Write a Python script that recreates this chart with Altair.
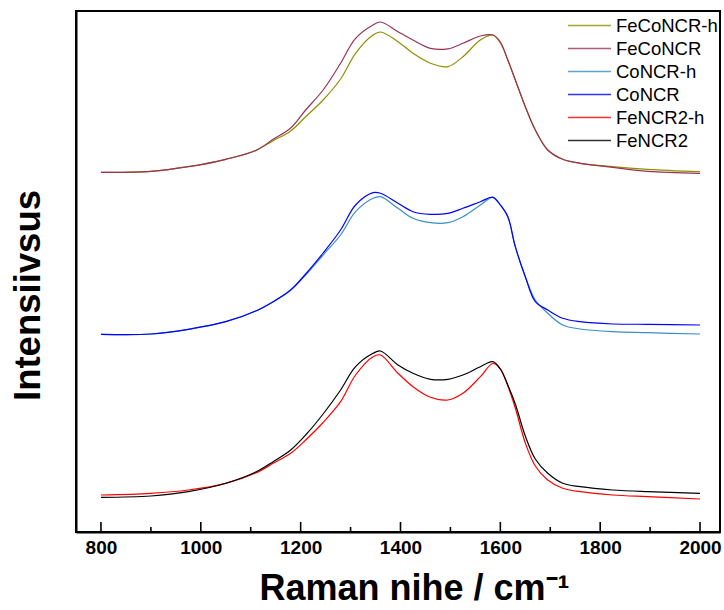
import altair as alt
import pandas as pd

# Raman shift (cm-1) sample positions
raman_shift = [800, 900, 975, 1050, 1110, 1145, 1180, 1210, 1245, 1280, 1310,
               1345, 1360, 1395, 1425, 1460, 1495, 1525, 1560, 1585, 1600,
               1615, 1630, 1650, 1670, 1695, 1725, 1760, 1825, 1895, 2000]

# Intensities (arbitrary units, offset stacked as in the figure)
feconcr_h = [359.7, 360.7, 365.3, 372.7, 381.5, 391.3, 401, 415.3, 432, 453, 478.7,
             497, 500, 490.3, 478.7, 468.7, 465.3, 475.3, 492, 497, 489,
             472, 452, 425.3, 402, 382, 372.7, 368.7, 365.3, 362.7, 360.3]
feconcr = [359.7, 360.7, 365.3, 372.7, 381.5, 392.7, 404, 422, 442, 468.7, 493.7,
           507, 510, 500.3, 492, 483.7, 483.2, 488.7, 496, 497, 490,
           472, 452, 425.3, 402, 382, 372.7, 368.7, 364.7, 360.7, 358.7]
concr_h = [197.7, 198, 202.7, 210.3, 221, 230.3, 242, 257, 277, 297, 320.3,
           333.7, 335.3, 323.7, 313.7, 309.3, 309.3, 315.3, 327, 334.7, 327,
           315.3, 285.3, 255.3, 232, 218.7, 207, 203, 200.3, 199.3, 198]
concr = [197.7, 198, 202.7, 210.3, 221, 230.3, 242, 258, 279, 302, 327,
         339.3, 338.7, 328.7, 320.3, 317.7, 318.7, 323.7, 330.3, 334.7, 327,
         315.3, 285.3, 255.3, 230.3, 222, 213.7, 210.3, 208, 207.7, 207]
fencr2_h = [37, 38.7, 42, 48.7, 59, 68.7, 78.7, 92, 109.5, 130.3, 157,
            175.3, 177, 158.7, 145.3, 134.7, 132, 138.7, 155.3, 168.5, 163,
            146, 124, 89, 66, 52, 43.7, 40.3, 37, 35.3, 33]
fencr2 = [34.7, 36, 40.3, 48.7, 60, 70.3, 82, 97, 118, 142, 165.3,
          178.7, 181, 167, 158.7, 152.7, 152.7, 157, 165.3, 170.3, 163,
          147, 128, 96, 73, 58.7, 48.7, 45.3, 42, 40.3, 38.7]

series_names = ["FeCoNCR-h", "FeCoNCR", "CoNCR-h", "CoNCR", "FeNCR2-h", "FeNCR2"]
series_values = [feconcr_h, feconcr, concr_h, concr, fencr2_h, fencr2]
series_colors = ["#8f8f00", "#993355", "#3a8fc4", "#0000ff", "#ff0000", "#000000"]

major_ticks = [800, 1000, 1200, 1400, 1600, 1800, 2000]
minor_ticks = [900, 1100, 1300, 1500, 1700, 1900]

rows = []
for name, vals in zip(series_names, series_values):
    for xv, yv in zip(raman_shift, vals):
        rows.append({"shift": xv, "intensity": yv, "sample": name})
df = pd.DataFrame(rows)

W, H = 644, 521
FONT = "Liberation Sans"

xscale = alt.Scale(domain=[750, 2040], nice=False, zero=False)

lines = alt.Chart(df).mark_line(strokeWidth=1.2, interpolate="catmull-rom").encode(
    x=alt.X("shift:Q", scale=xscale,
            axis=alt.Axis(values=major_ticks, format="d", ticks=False, grid=False,
                          title="Raman nihe / cm⁻¹", labelFontSize=19,
                          labelFontWeight="bold", labelPadding=6,
                          titleFontSize=36, titlePadding=14, titleX=338)),
    y=alt.Y("intensity:Q", scale=alt.Scale(domain=[0, 521], nice=False, zero=False),
            axis=alt.Axis(labels=False, ticks=False, grid=False,
                          title="Intensiivsus", titleFontSize=36.5, titlePadding=29,
                          titleY=284)),
    color=alt.Color("sample:N",
                    scale=alt.Scale(domain=series_names, range=series_colors),
                    sort=series_names,
                    legend=alt.Legend(title=None, orient="none", legendX=502, legendY=3,
                                      symbolType="M-2,0H2", symbolSize=462,
                                      symbolStrokeWidth=1.5, symbolOpacity=0.8,
                                      labelFontSize=18.5, labelFont=FONT,
                                      labelOffset=15, rowPadding=2, padding=0)),
    order=alt.Order("shift:Q"),
)

major = alt.Chart(pd.DataFrame({"shift": major_ticks})).mark_rule(
    color="black", strokeWidth=1.6).encode(
    x=alt.X("shift:Q", scale=xscale), y=alt.value(H - 10), y2=alt.value(H))
minor = alt.Chart(pd.DataFrame({"shift": minor_ticks})).mark_rule(
    color="black", strokeWidth=1.6).encode(
    x=alt.X("shift:Q", scale=xscale), y=alt.value(H - 5), y2=alt.value(H))

chart = alt.layer(lines, major, minor).properties(
    width=W, height=H,
    autosize=alt.AutoSizeParams(type="none"),
    padding={"left": 76, "top": 11, "right": 4, "bottom": 78},
    background="white",
).configure_view(
    stroke="black", strokeWidth=2
).configure_axis(
    domainColor="black", domainWidth=2, labelColor="black", titleColor="black",
    labelFont=FONT, titleFont=FONT, titleFontWeight="bold",
)

chart.save("out.html", embed_options={"renderer": "svg", "actions": False})
